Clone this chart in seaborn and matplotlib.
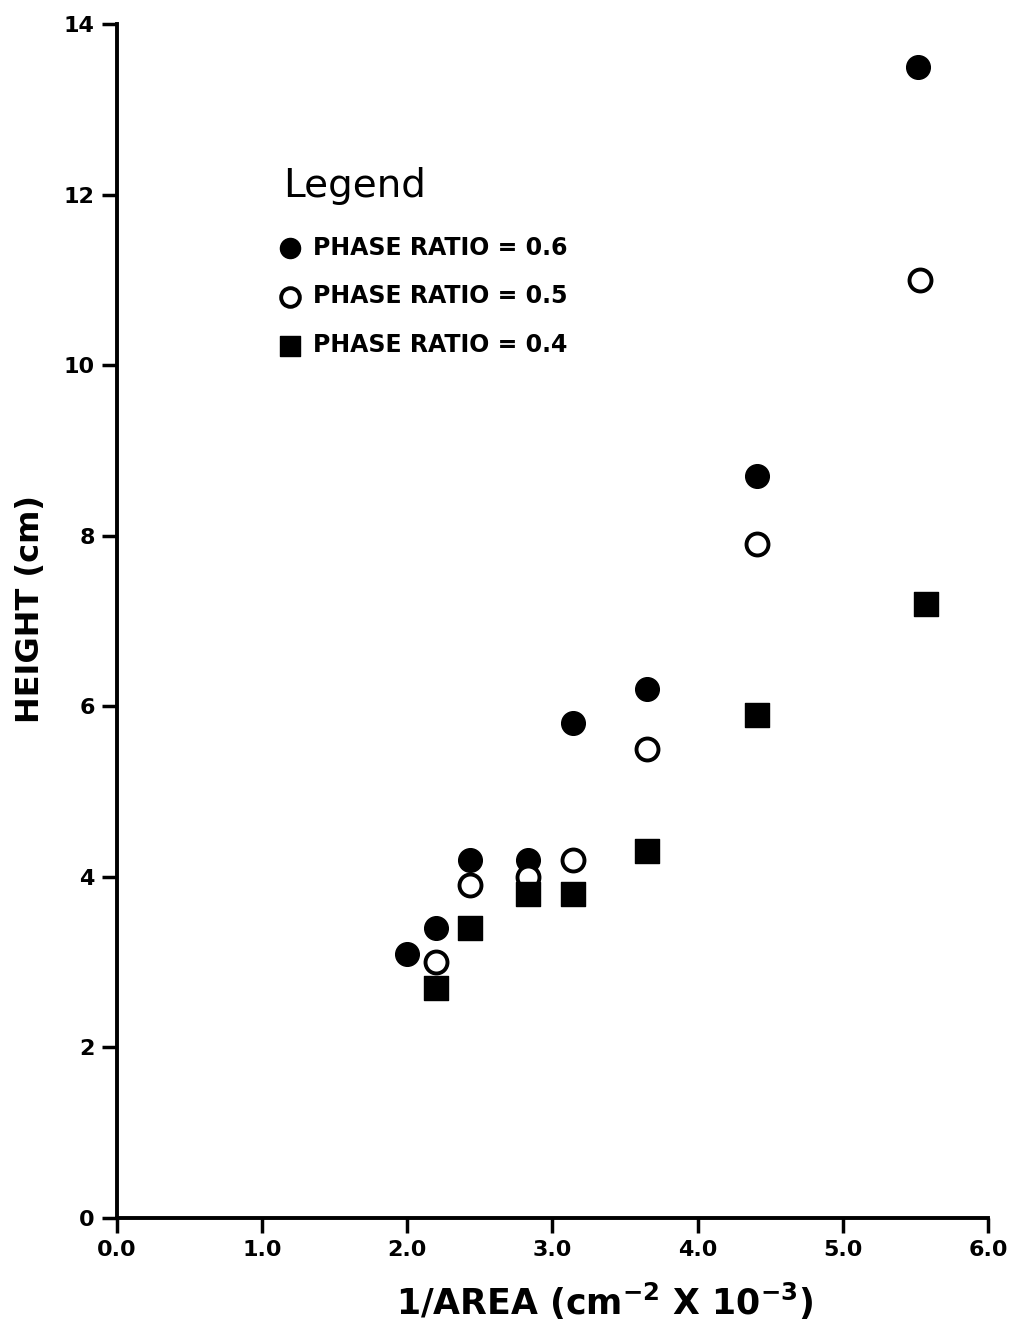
import numpy as np
import pandas as pd
import matplotlib
matplotlib.use('Agg')
import matplotlib.pyplot as plt
import seaborn as sns

# data
x_06 = [2.0, 2.2, 2.43, 2.83, 3.14, 3.65, 4.41, 5.52]
y_06 = [3.1, 3.4, 4.2, 4.2, 5.8, 6.2, 8.7, 13.5]

x_05 = [2.2, 2.43, 2.83, 3.14, 3.65, 4.41, 5.53]
y_05 = [3.0, 3.9, 4.0, 4.2, 5.5, 7.9, 11.0]

x_04 = [2.2, 2.43, 2.83, 3.14, 3.65, 4.41, 5.57]
y_04 = [2.7, 3.4, 3.8, 3.8, 4.3, 5.9, 7.2]

labels = ['PHASE RATIO = 0.6', 'PHASE RATIO = 0.5', 'PHASE RATIO = 0.4']
xticks = [0.0, 1.0, 2.0, 3.0, 4.0, 5.0, 6.0]
yticks = [0, 2, 4, 6, 8, 10, 12, 14]

sns.set_style('ticks')
plt.rcParams['font.family'] = ['DejaVu Sans']
plt.rcParams['text.color'] = 'black'
plt.rcParams['axes.labelcolor'] = 'black'
plt.rcParams['xtick.color'] = 'black'
plt.rcParams['ytick.color'] = 'black'
plt.rcParams['axes.edgecolor'] = 'black'

fig = plt.figure(figsize=(10.1, 13.3), dpi=100)
ax = fig.add_axes([0.1158, 0.0842, 0.8624, 0.8978])

df06 = pd.DataFrame({'x': x_06, 'y': y_06})
df05 = pd.DataFrame({'x': x_05, 'y': y_05})
df04 = pd.DataFrame({'x': x_04, 'y': y_04})

sns.scatterplot(data=df06, x='x', y='y', ax=ax, marker='o', s=290,
                color='black', edgecolor='black', linewidth=1, label=labels[0])
sns.scatterplot(data=df05, x='x', y='y', ax=ax, marker='o', s=250,
                facecolor='white', edgecolor='black', linewidth=2.8, label=labels[1])
sns.scatterplot(data=df04, x='x', y='y', ax=ax, marker='s', s=290,
                color='black', edgecolor='black', linewidth=1, label=labels[2])

ax.set_xlim(0, 6)
ax.set_ylim(0, 14)
ax.set_xticks(xticks)
ax.set_xticklabels([f'{t:.1f}' for t in xticks])
ax.set_yticks(yticks)
ax.tick_params(axis='both', direction='out', length=11, width=2.5,
               labelsize=16, pad=5)
for lab in ax.get_xticklabels() + ax.get_yticklabels():
    lab.set_fontweight('bold')

for side in ['top', 'right']:
    ax.spines[side].set_visible(False)
for side in ['left', 'bottom']:
    ax.spines[side].set_linewidth(2.8)

ax.set_xlabel(r'1/AREA (cm$^{\mathbf{-2}}$ X 10$^{\mathbf{-3}}$)',
              fontsize=25, fontweight='bold')
ax.set_ylabel('HEIGHT (cm)', fontsize=23, fontweight='bold')
ax.xaxis.set_label_coords(0.56, -0.053)
ax.yaxis.set_label_coords(-0.082, 0.51)

leg = ax.legend(title='Legend', loc='upper left', bbox_to_anchor=(0.166, 0.898),
                frameon=False, prop={'size': 17, 'weight': 'bold'},
                title_fontproperties={'size': 28}, alignment='left',
                handlelength=0.6, handletextpad=0.7, labelspacing=1.05,
                markerscale=0.85)
leg._legend_box.sep = 22

fig.savefig('out.png', dpi=100, facecolor='white')
